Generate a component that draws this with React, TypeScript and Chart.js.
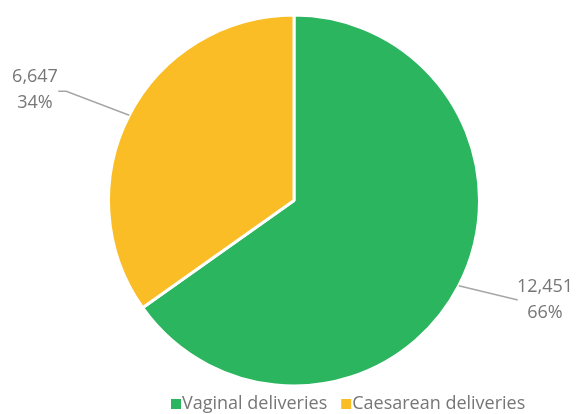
import React, { useEffect, useRef } from "react";
import { Chart, registerables } from "chart.js";

Chart.register(...registerables);

const categories = ["Vaginal deliveries", "Caesarean deliveries"];
const values = [12451, 6647];
const valueLabels = ["12,451", "6,647"];
const percentLabels = ["66%", "34%"];
const colors = ["#2bb55f", "#fbbd26"];

const FONT = "'Open Sans', 'Liberation Sans', sans-serif";
const TEXT = "#767676";

const labelPlugin = {
  id: "pieLabels",
  afterDraw(chart: any) {
    const ctx = chart.ctx;
    const meta = chart.getDatasetMeta(0);
    const layouts = [
      { elbow: [58, 14], end: [59, 14], text: [545, 287] },
      { elbow: [-63, -24], end: [-71, -24], text: [35, 77] },
    ];
    ctx.save();
    meta.data.forEach((arc: any, i: number) => {
      const p = arc.getProps(["x", "y", "startAngle", "endAngle", "outerRadius"], true);
      const mid = (p.startAngle + p.endAngle) / 2;
      const sx = p.x + Math.cos(mid) * p.outerRadius;
      const sy = p.y + Math.sin(mid) * p.outerRadius;
      const L = layouts[i];
      ctx.strokeStyle = "#a6a6a6";
      ctx.lineWidth = 1.5;
      ctx.beginPath();
      ctx.moveTo(sx, sy);
      ctx.lineTo(sx + L.elbow[0], sy + L.elbow[1]);
      ctx.lineTo(sx + L.end[0], sy + L.end[1]);
      ctx.stroke();
      ctx.fillStyle = TEXT;
      ctx.font = `18px ${FONT}`;
      ctx.textAlign = "center";
      ctx.textBaseline = "middle";
      ctx.fillText(valueLabels[i], L.text[0], L.text[1]);
      ctx.fillText(percentLabels[i], L.text[0], L.text[1] + 26);
    });
    // legend
    ctx.font = `18px ${FONT}`;
    ctx.textBaseline = "middle";
    ctx.textAlign = "left";
    const ly = 404;
    let x = 171;
    categories.forEach((c, i) => {
      ctx.fillStyle = colors[i];
      ctx.fillRect(x, ly - 5, 10, 10);
      ctx.fillStyle = TEXT;
      ctx.fillText(c, x + 11, ly);
      x += 11 + ctx.measureText(c).width + 14;
    });
    ctx.restore();
  },
};

export default function App() {
  const ref = useRef<HTMLCanvasElement>(null);
  useEffect(() => {
    if (!ref.current) return;
    const chart = new Chart(ref.current, {
      type: "pie",
      data: {
        labels: categories,
        datasets: [
          {
            data: values,
            backgroundColor: colors,
            borderColor: "#ffffff",
            borderWidth: 3,
          },
        ],
      },
      options: {
        responsive: false,
        animation: false,
        layout: { padding: { left: 107, right: 103, top: 13, bottom: 26 } },
        plugins: {
          legend: { display: false },
          tooltip: { enabled: false },
        },
      },
      plugins: [labelPlugin],
    });
    return () => chart.destroy();
  }, []);
  return (
    <div style={{ position: "absolute", left: 0, top: 0, width: 584, height: 414, background: "#fff" }}>
      <canvas ref={ref} width={584} height={414} />
    </div>
  );
}
